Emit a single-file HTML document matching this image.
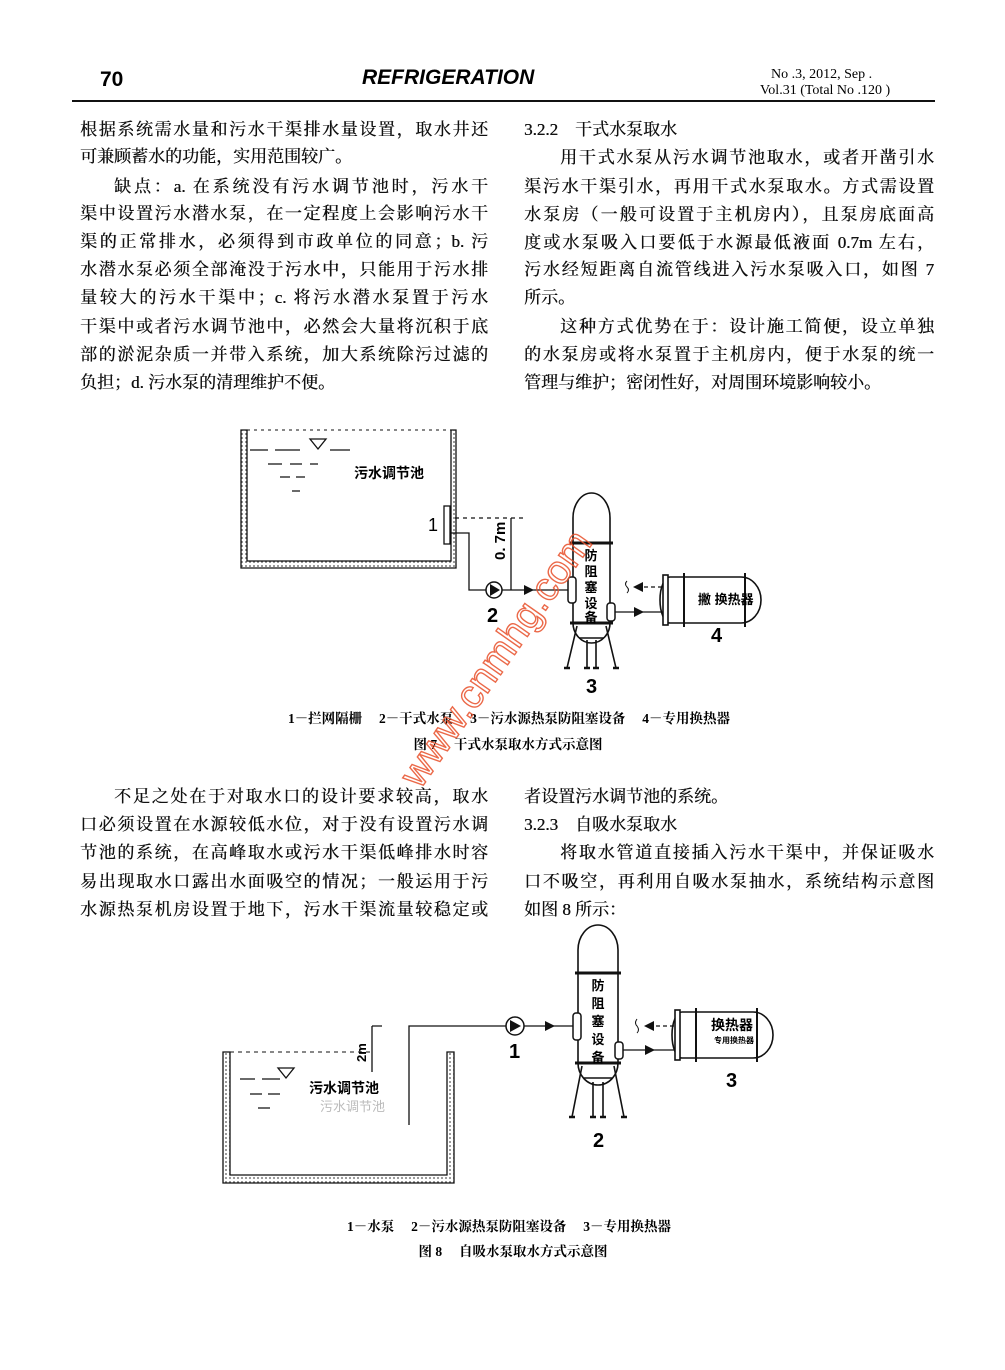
<!DOCTYPE html>
<html><head><meta charset="utf-8">
<style>
html,body{margin:0;padding:0;background:#fff;}
body{width:1005px;height:1370px;position:relative;overflow:hidden;font-family:"Liberation Serif","Noto Serif CJK SC","Noto Sans CJK SC",serif;color:#111;}
.l{position:absolute;height:22px;line-height:22px;font-size:17px;text-align:justify;text-align-last:justify;white-space:nowrap;text-shadow:0.4px 0 0 #111;}
.s{text-align-last:left;}
.L{left:80px;width:408px;}
.R{left:524px;width:410px;}
svg{position:absolute;left:0;top:0;}
</style></head><body>
<div class="l L" style="top:119px">根据系统需水量和污水干渠排水量设置，取水井还</div>
<div class="l L s" style="top:146px">可兼顾蓄水的功能，实用范围较广。</div>
<div class="l L" style="top:176px;left:114px;width:374px">缺点：a. 在系统没有污水调节池时，污水干</div>
<div class="l L" style="top:203px">渠中设置污水潜水泵，在一定程度上会影响污水干</div>
<div class="l L" style="top:231px">渠的正常排水，必须得到市政单位的同意；b. 污</div>
<div class="l L" style="top:259px">水潜水泵必须全部淹没于污水中，只能用于污水排</div>
<div class="l L" style="top:287px">量较大的污水干渠中；c. 将污水潜水泵置于污水</div>
<div class="l L" style="top:316px">干渠中或者污水调节池中，必然会大量将沉积于底</div>
<div class="l L" style="top:344px">部的淤泥杂质一并带入系统，加大系统除污过滤的</div>
<div class="l L s" style="top:372px">负担；d. 污水泵的清理维护不便。</div>

<div class="l R s" style="top:119px">3.2.2　干式水泵取水</div>
<div class="l R" style="top:147px;left:560px;width:374px">用干式水泵从污水调节池取水，或者开凿引水</div>
<div class="l R" style="top:176px">渠污水干渠引水，再用干式水泵取水。方式需设置</div>
<div class="l R" style="top:204px">水泵房（一般可设置于主机房内），且泵房底面高</div>
<div class="l R" style="top:232px">度或水泵吸入口要低于水源最低液面 0.7m 左右，</div>
<div class="l R" style="top:259px">污水经短距离自流管线进入污水泵吸入口，如图 7</div>
<div class="l R s" style="top:287px">所示。</div>
<div class="l R" style="top:316px;left:560px;width:374px">这种方式优势在于：设计施工简便，设立单独</div>
<div class="l R" style="top:344px">的水泵房或将水泵置于主机房内，便于水泵的统一</div>
<div class="l R s" style="top:372px">管理与维护；密闭性好，对周围环境影响较小。</div>

<div class="l L" style="top:786px;left:114px;width:374px">不足之处在于对取水口的设计要求较高，取水</div>
<div class="l L" style="top:814px">口必须设置在水源较低水位，对于没有设置污水调</div>
<div class="l L" style="top:842px">节池的系统，在高峰取水或污水干渠低峰排水时容</div>
<div class="l L" style="top:871px">易出现取水口露出水面吸空的情况；一般运用于污</div>
<div class="l L" style="top:899px">水源热泵机房设置于地下，污水干渠流量较稳定或</div>

<div class="l R s" style="top:786px">者设置污水调节池的系统。</div>
<div class="l R s" style="top:814px">3.2.3　自吸水泵取水</div>
<div class="l R" style="top:842px;left:560px;width:374px">将取水管道直接插入污水干渠中，并保证吸水</div>
<div class="l R" style="top:871px">口不吸空，再利用自吸水泵抽水，系统结构示意图</div>
<div class="l R s" style="top:899px">如图 8 所示：</div>

<svg width="1005" height="1370" viewBox="0 0 1005 1370" xmlns="http://www.w3.org/2000/svg">
<defs>
<pattern id="dots" width="4" height="4" patternUnits="userSpaceOnUse"><rect width="4" height="4" fill="#fff"/><circle cx="2" cy="2" r="0.9" fill="#555"/></pattern>
<g id="vessel" fill="none" stroke="#111" stroke-width="1.6">
<path d="M0,23 L0,-2 A18.5,25 0 0 1 37,-2 L37,23" fill="#fff"/>
<rect x="0" y="23" width="37" height="80" fill="#fff"/>
<path d="M0,103 A18.5,20 0 0 0 37,103" fill="#fff"/>
<line x1="-3" y1="23" x2="40" y2="23" stroke-width="3"/>
<line x1="-3" y1="103" x2="40" y2="103" stroke-width="3"/>
<path d="M4,106 L-6,148 M33,106 L43,148 M14,120 L14,148 M23,120 L23,148 M6,118 L31,118"/>
<path d="M-9,148 L-3,148 M11,148 L17,148 M20,148 L26,148 M40,148 L46,148" stroke-width="2.5"/>
</g>
<g id="vessel2" fill="none" stroke="#111" stroke-width="1.6">
<path d="M0,23 L0,0 A20,25 0 0 1 40,0 L40,23" fill="#fff"/>
<rect x="0" y="23" width="40" height="90" fill="#fff"/>
<path d="M0,113 A20,22 0 0 0 40,113" fill="#fff"/>
<line x1="-3" y1="23" x2="43" y2="23" stroke-width="3"/>
<line x1="-3" y1="113" x2="43" y2="113" stroke-width="3"/>
<path d="M4,116 L-6,167 M36,116 L46,167 M15,132 L15,167 M25,132 L25,167 M6,128 L34,128"/>
<path d="M-9,167 L-3,167 M12,167 L18,167 M22,167 L28,167 M43,167 L49,167" stroke-width="2.5"/>
</g>
<g id="hx" fill="none" stroke="#111" stroke-width="1.6">
<path d="M7,0 L78,0 A20,23 0 0 1 78,46 L7,46 A10,23 0 0 1 7,0z" fill="#fff"/>
<rect x="0" y="-2" width="5" height="50" fill="#fff"/>
<line x1="21" y1="-4" x2="21" y2="50" stroke-width="2"/>
<line x1="82" y1="-4" x2="82" y2="50" stroke-width="2"/>
</g>
</defs>

<!-- header -->
<text x="100" y="86" font-family="Liberation Sans, sans-serif" font-weight="bold" font-size="21">70</text>
<text x="362" y="84" font-family="Liberation Sans, sans-serif" font-weight="bold" font-style="italic" font-size="21">REFRIGERATION</text>
<text x="771" y="78" font-size="14" font-family="Liberation Serif, serif">No .3,  2012,  Sep .</text>
<text x="760" y="94" font-size="14" font-family="Liberation Serif, serif">Vol.31 (Total No .120 )</text>
<line x1="72" y1="101" x2="935" y2="101" stroke="#111" stroke-width="2"/>

<!-- FIG 7 -->
<path d="M241,430 L241,568 L456,568 L456,430 L451,430 L451,561 L247,561 L247,430 Z" fill="url(#dots)" stroke="#111" stroke-width="1.3"/>
<line x1="247" y1="430" x2="451" y2="430" stroke="#111" stroke-width="1" stroke-dasharray="3,4"/>
<path d="M310,439 L326,439 L318,449 Z" fill="none" stroke="#111" stroke-width="1.3"/>
<path d="M250,450 L268,450 M275,450 L300,450 M330,450 L350,450 M268,464 L282,464 M290,464 L302,464 M310,464 L318,464 M280,477 L290,477 M296,477 L305,477 M292,491 L300,491" stroke="#111" stroke-width="1.2"/>
<text x="354" y="478" font-size="14" font-weight="bold" font-family="Liberation Sans, Noto Sans CJK SC, sans-serif">污水调节池</text>
<rect x="444" y="506" width="6" height="38" fill="#fff" stroke="#111" stroke-width="1.3"/>
<text x="428" y="531" font-size="18" font-family="Liberation Sans, sans-serif">1</text>
<line x1="455" y1="518" x2="524" y2="518" stroke="#111" stroke-width="1.2" stroke-dasharray="4,4"/>
<line x1="511" y1="518" x2="511" y2="590" stroke="#111" stroke-width="1.3"/>
<text transform="translate(505,560) rotate(-90)" font-size="15" font-weight="bold" font-family="Liberation Sans, sans-serif">0. 7m</text>
<path d="M451,533 L469,533 L469,590 L486,590 M502,590 L569,590" fill="none" stroke="#111" stroke-width="1.3"/>
<path d="M524,585 L534,590 L524,595Z" fill="#111"/>
<circle cx="494" cy="590" r="8" fill="#fff" stroke="#111" stroke-width="1.5"/>
<path d="M490,584 L500,590 L490,596Z" fill="#111"/>
<text x="487" y="622" font-size="20" font-weight="bold" font-family="Liberation Sans, sans-serif">2</text>
<use href="#vessel" x="573" y="520"/>
<rect x="568" y="577" width="8" height="26" rx="3" fill="#fff" stroke="#111" stroke-width="1.5"/>
<rect x="607" y="603" width="8" height="18" rx="3" fill="#fff" stroke="#111" stroke-width="1.5"/>
<g font-size="13" font-weight="bold" font-family="Noto Sans CJK SC, sans-serif" text-anchor="middle">
<text x="591" y="560">防</text><text x="591" y="576">阻</text><text x="591" y="592">塞</text><text x="591" y="608">设</text><text x="591" y="622">备</text></g>
<text x="586" y="693" font-size="20" font-weight="bold" font-family="Liberation Sans, sans-serif">3</text>
<use href="#hx" x="663" y="577"/>
<line x1="662" y1="587" x2="640" y2="587" stroke="#111" stroke-width="1.2" stroke-dasharray="4,3"/>
<path d="M643,582 L633,587 L643,592Z" fill="#111"/>
<path d="M627,581 q-3,3 0,6 q3,3 0,6" fill="none" stroke="#111" stroke-width="1"/>
<line x1="615" y1="612" x2="663" y2="612" stroke="#111" stroke-width="1.3"/>
<path d="M634,607 L644,612 L634,617Z" fill="#111"/>
<text x="698" y="604" font-size="13" font-weight="bold" font-family="Liberation Sans, Noto Sans CJK SC, sans-serif">撇 换热器</text>
<text x="711" y="642" font-size="20" font-weight="bold" font-family="Liberation Sans, sans-serif">4</text>
<text x="509" y="723" text-anchor="middle" font-size="13.5" font-weight="bold" font-family="Liberation Serif, Noto Serif CJK SC, serif" xml:space="preserve">1－拦网隔栅　 2－干式水泵　 3－污水源热泵防阻塞设备　 4－专用换热器</text>
<text x="508" y="749" text-anchor="middle" font-size="13.5" font-weight="bold" font-family="Liberation Serif, Noto Serif CJK SC, serif" xml:space="preserve">图 7　 干式水泵取水方式示意图</text>

<!-- FIG 8 -->
<path d="M223,1052 L223,1183 L454,1183 L454,1052 L447,1052 L447,1175 L230,1175 L230,1052 Z" fill="url(#dots)" stroke="#111" stroke-width="1.3"/>
<line x1="230" y1="1052" x2="372" y2="1052" stroke="#111" stroke-width="1" stroke-dasharray="4,4"/>
<path d="M372,1026 L372,1072 M372,1026 L382,1026" fill="none" stroke="#111" stroke-width="1.3"/>
<text transform="translate(366,1062) rotate(-90)" font-size="13" font-weight="bold" font-family="Liberation Sans, sans-serif">2m</text>
<path d="M278,1068 L294,1068 L286,1078 Z" fill="none" stroke="#111" stroke-width="1.3"/>
<path d="M240,1079 L255,1079 M262,1079 L280,1079 M250,1094 L262,1094 M268,1094 L280,1094 M258,1108 L270,1108" stroke="#111" stroke-width="1.2"/>
<text x="309" y="1093" font-size="14" font-weight="bold" font-family="Liberation Sans, Noto Sans CJK SC, sans-serif">污水调节池</text>
<text x="320" y="1111" font-size="13" font-family="Noto Sans CJK SC, sans-serif" fill="#bbb">污水调节池</text>
<path d="M409,1125 L409,1026 L506,1026 M524,1026 L573,1026" fill="none" stroke="#111" stroke-width="1.3"/>
<circle cx="515" cy="1026" r="9" fill="#fff" stroke="#111" stroke-width="1.5"/>
<path d="M510,1020 L521,1026 L510,1032Z" fill="#111"/>
<path d="M545,1021 L555,1026 L545,1031Z" fill="#111"/>
<text x="509" y="1058" font-size="20" font-weight="bold" font-family="Liberation Sans, sans-serif">1</text>
<use href="#vessel2" x="578" y="950"/>
<rect x="573" y="1013" width="8" height="27" rx="3" fill="#fff" stroke="#111" stroke-width="1.5"/>
<rect x="615" y="1042" width="8" height="17" rx="3" fill="#fff" stroke="#111" stroke-width="1.5"/>
<g font-size="13" font-weight="bold" font-family="Noto Sans CJK SC, sans-serif" text-anchor="middle">
<text x="598" y="990">防</text><text x="598" y="1008">阻</text><text x="598" y="1026">塞</text><text x="598" y="1044">设</text><text x="598" y="1062">备</text></g>
<text x="593" y="1147" font-size="20" font-weight="bold" font-family="Liberation Sans, sans-serif">2</text>
<use href="#hx" x="675" y="1012"/>
<line x1="674" y1="1026" x2="652" y2="1026" stroke="#111" stroke-width="1.2" stroke-dasharray="4,3"/>
<path d="M654,1021 L644,1026 L654,1031Z" fill="#111"/>
<path d="M637,1019 q-3,4 0,7 q3,4 0,7" fill="none" stroke="#111" stroke-width="1"/>
<line x1="623" y1="1050" x2="675" y2="1050" stroke="#111" stroke-width="1.3"/>
<path d="M645,1045 L655,1050 L645,1055Z" fill="#111"/>
<text x="711" y="1030" font-size="14" font-weight="bold" font-family="Liberation Sans, Noto Sans CJK SC, sans-serif">换热器</text>
<text x="714" y="1043" font-size="8" font-weight="bold" font-family="Liberation Sans, Noto Sans CJK SC, sans-serif">专用换热器</text>
<text x="726" y="1087" font-size="20" font-weight="bold" font-family="Liberation Sans, sans-serif">3</text>
<text x="509" y="1231" text-anchor="middle" font-size="13.5" font-weight="bold" font-family="Liberation Serif, Noto Serif CJK SC, serif" xml:space="preserve">1－水泵　 2－污水源热泵防阻塞设备　 3－专用换热器</text>
<text x="513" y="1256" text-anchor="middle" font-size="13.5" font-weight="bold" font-family="Liberation Serif, Noto Serif CJK SC, serif" xml:space="preserve">图 8　 自吸水泵取水方式示意图</text>

<!-- watermark -->
<text transform="translate(420,790) rotate(-55)" font-size="40" font-family="Liberation Sans, sans-serif" fill="none" stroke="#e8502a" stroke-width="1.4" opacity="0.85">www.cnmhg.com</text>
</svg>
</body></html>
